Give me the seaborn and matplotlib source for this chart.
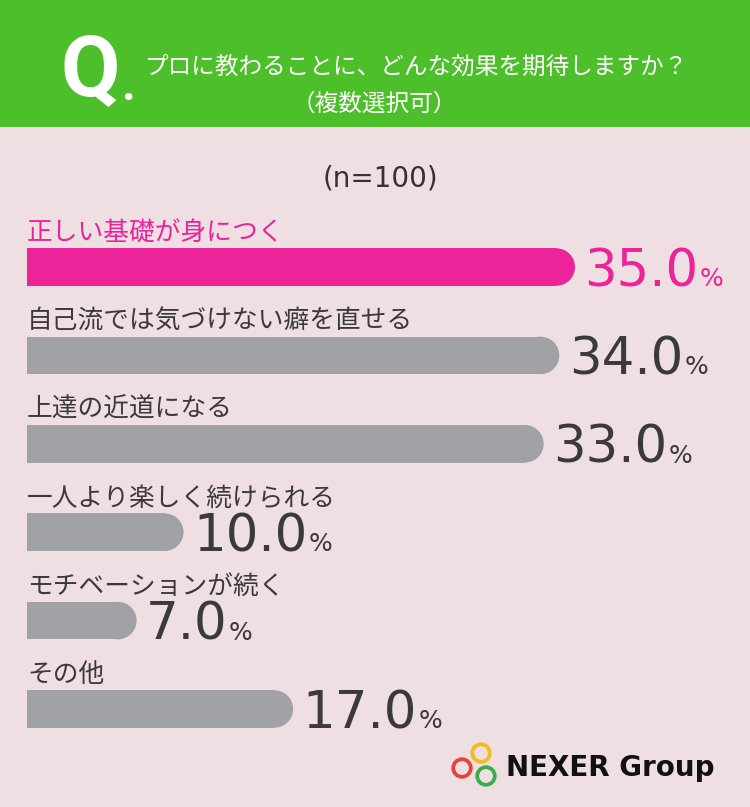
import matplotlib
matplotlib.use("Agg")
import matplotlib.pyplot as plt
import seaborn as sns
import numpy as np
from matplotlib.patches import Rectangle, Ellipse, Circle

# data
categories = ["正しい基礎が身につく", "自己流では気づけない癖を直せる", "上達の近道になる",
              "一人より楽しく続けられる", "モチベーションが続く", "その他"]
values = [35.0, 34.0, 33.0, 10.0, 7.0, 17.0]
question = "プロに教わることに、どんな効果を期待しますか？"
question_note = "（複数選択可）"
sample_note = "(n=100)"

BG = "#EFDFE3"
GREEN = "#4CBF2B"
PINK = "#ED2399"
GRAY = "#A0A2A6"
DARK = "#3A3A3A"
bar_colors = [PINK] + [GRAY] * (len(categories) - 1)

JP = ["Noto Sans CJK JP", "DejaVu Sans"]
NUM = ["DejaVu Sans"]

sns.set_theme(style="white")
plt.rcParams["font.family"] = JP

W, H = 750, 807
fig = plt.figure(figsize=(W / 100, H / 100), dpi=100, facecolor=BG)

# full-figure pixel axes for header, notes and logo
bg = fig.add_axes([0, 0, 1, 1])
bg.set_xlim(0, W)
bg.set_ylim(H, 0)
bg.axis("off")
bg.add_patch(Rectangle((0, 0), W, 127, color=GREEN, lw=0))
bg.text(60, 96, "Q", color="white", fontsize=62, fontweight="bold",
        family=["Roboto", "DejaVu Sans"], va="baseline", ha="left")
bg.text(121, 100, ".", color="white", fontsize=34, fontweight="bold",
        family=["Roboto", "DejaVu Sans"], va="baseline", ha="left")
bg.text(417, 67, question, color="white", fontsize=17, va="center", ha="center", family=JP)
bg.text(374, 104, question_note, color="white", fontsize=17, va="center", ha="center", family=JP)
bg.text(380, 178, sample_note, color="#333333", fontsize=20, va="center", ha="center", family=NUM)

# logo
for (cx, cy), c in zip([(462, 768), (481, 753), (486, 776)], ["#E5443A", "#F1BD1E", "#3DAD4A"]):
    bg.add_patch(Circle((cx, cy), 8.8, fill=False, ec=c, lw=2.7))
bg.text(506, 768, "NEXER Group", color="#111111", fontsize=20, fontweight="bold",
        family=NUM, va="center", ha="left")

# bar axes: index -0.5 at y=222.8px, 5.5 at 753.2px ; x 0 at 27px
x_max = 46
ax_left, ax_right, ax_top, ax_bot = 27, 747.2, 222.8, 753.2
ax = fig.add_axes([ax_left / W, 1 - ax_bot / H, (ax_right - ax_left) / W, (ax_bot - ax_top) / H])
ax.patch.set_alpha(0)
bar_h = 0.424
sns.barplot(x=values, y=categories, hue=categories, palette=bar_colors, legend=False,
            orient="h", width=bar_h, saturation=1, ax=ax)
ax.set_xlim(0, x_max)
ax.set_ylim(len(categories) - 0.5, -0.5)
ax.axis("off")

# round right ends of bars
px_x = (ax_right - ax_left) / x_max
px_y = (ax_bot - ax_top) / len(categories)
for p in list(ax.patches):
    x0, y0 = p.get_xy()
    w, h = p.get_width(), p.get_height()
    rx = (h * px_y / 2) / px_x
    p.set_width(w - rx)
    p.set_linewidth(0)
    ax.add_patch(Ellipse((x0 + w - rx, y0 + h / 2), 2 * rx, h, color=p.get_facecolor(), lw=0))

# category labels and value labels
value_texts = []
for i, (cat, v) in enumerate(zip(categories, values)):
    col = PINK if i == 0 else DARK
    ax.text(0, i - 0.38, cat, color=col, fontsize=18.5, va="center", ha="left", family=JP)
    t = ax.text(v + 0.6, i + 0.215, f"{v:.1f}", color=col, fontsize=37,
                family=NUM, va="baseline", ha="left")
    value_texts.append((t, v, i, col))

fig.canvas.draw()
renderer = fig.canvas.get_renderer()
for t, v, i, col in value_texts:
    bb = t.get_window_extent(renderer)
    ax.annotate("%", xy=(v + 0.6, i + 0.215), xycoords="data",
                xytext=(bb.width * 72 / 100 + 1, 0), textcoords="offset points",
                color=col, fontsize=18, family=NUM, va="baseline", ha="left")

fig.savefig("out.png", dpi=100, facecolor=BG)
